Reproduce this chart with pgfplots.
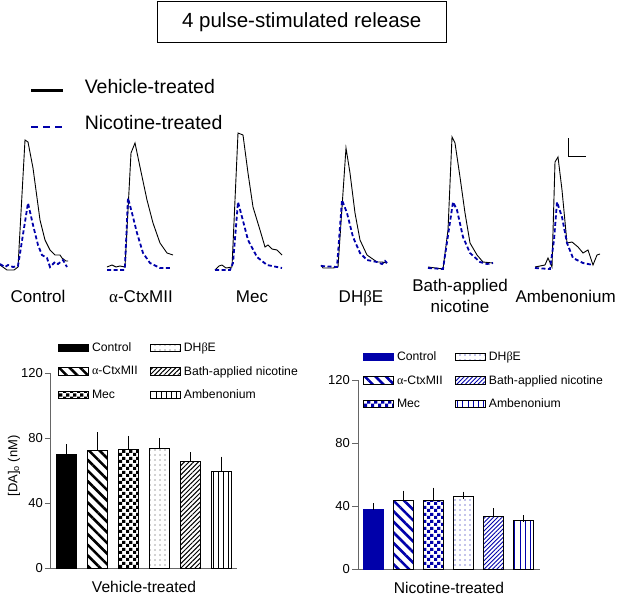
\documentclass[border=0pt]{standalone}
\usepackage{pgfplots}
\pgfplotsset{compat=1.18}
\usepackage{fontspec}
\setmainfont{Liberation Sans}
\newfontfamily\grk{Liberation Serif}
\usetikzlibrary{patterns,patterns.meta}
\definecolor{DBlue}{RGB}{0,0,170}
\pgfdeclarepatternformonly{mycheck}{\pgfpointorigin}{\pgfqpoint{7pt}{7pt}}{\pgfqpoint{7pt}{7pt}}{%
  \pgfpathrectangle{\pgfpointorigin}{\pgfqpoint{3.5pt}{3.5pt}}%
  \pgfpathrectangle{\pgfqpoint{3.5pt}{3.5pt}}{\pgfqpoint{3.5pt}{3.5pt}}%
  \pgfusepath{fill}}
\newcommand{\A}{{\grk α}}
\newcommand{\B}{{\grk β}}
\pgfplotsset{
  barax/.style={
    scale only axis, anchor=south west,
    ymin=0, ymax=120, ytick={0,40,80,120},
    xtick=\empty,
    axis lines*=left,
    axis line style={black!60, line width=1pt},
    every tick/.style={black!60, line width=1pt},
    tick align=outside, major tick length=6pt,
    /pgf/number format/assume math mode=true,
    yticklabel style={font=\fontsize{13}{13}\selectfont, inner sep=2pt},
    ybar, bar width=0.668, bar shift=0pt,
    every axis plot/.append style={line width=1pt},
    error bars/y dir=plus, error bars/y explicit,
    error bars/error bar style={black, line width=1pt},
    error bars/error mark options={black, line width=1pt, mark size=3.5pt},
    legend columns=2, legend cell align=left,
    legend image code/.code={\path (-10.5pt,0pt); \draw[##1] (0pt,-3.7pt) rectangle (29.4pt,3.7pt); \path (30.7pt,0pt);},
    legend style={draw=none, fill=none, inner sep=0pt, outer sep=0pt, row sep=9pt, column sep=0pt, font=\fontsize{12.2}{14}\selectfont, anchor=north west},
    xlabel style={font=\fontsize{15.6}{16}\selectfont, anchor=center, inner sep=0pt},
  },
}
\begin{document}
\begin{tikzpicture}
\useasboundingbox (0,0) rectangle (621pt,595pt);
% ---------- traces ----------
\begin{axis}[name=main, at={(0pt,0pt)}, anchor=south west, scale only axis,
  width=621pt, height=595pt,
  xmin=0, xmax=621, ymin=0, ymax=595, y dir=reverse, hide axis, clip=false,
  legend style={at={(axis cs:29.8,77)}, anchor=north west, draw=none, fill=none, inner sep=0pt, row sep=17pt, font=\fontsize{19.5}{20}\selectfont},
  legend image code/.code={\draw[#1] (0pt,-3.5pt) -- (31.7pt,-3.5pt); \path (50.2pt,3.5pt);},
  legend cell align=left,
]
\addlegendimage{black, line width=2.6pt}
\addlegendentry{Vehicle-treated}
\addlegendimage{DBlue, line width=2.6pt, dash pattern=on 7pt off 5pt}
\addlegendentry{Nicotine-treated}
% Control
\addplot[black, line width=0.9pt, forget plot] coordinates {(0,265) (7,270) (14,270) (18,267) (25,140) (28,142) (33,168) (40,220) (45,240) (50,250) (55,255) (60,255) (62,258) (66,261) (68,261)};
\addplot[DBlue, line width=1.8pt, dash pattern=on 4pt off 2.5pt, forget plot] coordinates {(0,264) (5,267) (8,265) (13,267) (18,266) (28,203) (33,225) (38,245) (42,255) (47,258) (50,267) (55,262) (58,264) (63,260) (67,267)};
% a-CtxMII
\addplot[black, line width=0.9pt, forget plot] coordinates {(107,267) (112,265) (116,267) (120,266) (125,267) (131,153) (135,143) (140,167) (147,200) (153,223) (160,243) (167,253) (173,255)};
\addplot[DBlue, line width=1.8pt, dash pattern=on 4pt off 2.5pt, forget plot] coordinates {(107,270) (124,270) (125,266) (128,198) (132,213) (137,233) (143,253) (150,263) (160,268) (172,268)};
% Mec
\addplot[black, line width=0.9pt, forget plot] coordinates {(215,270) (219,266) (222,265) (226,268) (232,267) (238,133) (243,135) (248,173) (253,207) (260,230) (265,247) (268,245) (272,249) (277,250) (282,255)};
\addplot[DBlue, line width=1.8pt, dash pattern=on 4pt off 2.5pt, forget plot] coordinates {(215,270) (230,270) (233,263) (238,202) (242,217) (248,240) (257,257) (267,265) (282,268)};
% DHbE
\addplot[black, line width=0.9pt, forget plot] coordinates {(321,265) (323,268) (333,268) (338,267) (346,148) (350,173) (355,213) (360,240) (367,255) (377,262) (382,262) (387,263)};
\addplot[DBlue, line width=1.8pt, dash pattern=on 4pt off 2.5pt, forget plot] coordinates {(321,266) (337,267) (342,200) (347,213) (353,237) (360,253) (367,260) (377,262) (382,264) (385,261) (387,263)};
% Bath
\addplot[black, line width=0.9pt, forget plot] coordinates {(428,267) (443,269) (448,230) (452,137) (455,143) (460,177) (465,213) (470,243) (477,255) (483,262) (493,263)};
\addplot[DBlue, line width=1.8pt, dash pattern=on 4pt off 2.5pt, forget plot] coordinates {(428,268) (443,269) (453,202) (457,210) (463,237) (470,253) (480,262) (487,264) (493,263)};
% Ambenonium
\addplot[black, line width=0.9pt, forget plot] coordinates {(535,267) (545,265) (548,258) (552,267) (555,162) (558,157) (562,190) (567,243) (572,242) (578,247) (583,253) (588,250) (593,265) (597,255) (600,254)};
\addplot[DBlue, line width=1.8pt, dash pattern=on 4pt off 2.5pt, forget plot] coordinates {(535,268) (550,269) (554,240) (557,202) (562,217) (567,243) (573,258) (583,263) (593,265)};
% scale bar
\addplot[black, line width=1pt, forget plot] coordinates {(568,138) (568,156) (586,156)};
% texts
\node[draw=black, line width=1pt, minimum width=288.5pt, minimum height=40.6pt, inner sep=0pt, font=\fontsize{20.5}{21}\selectfont] at (axis cs:301.75,22) {4 pulse-stimulated release};
\begin{scope}[every node/.style={font=\fontsize{17}{21.7}\selectfont, inner sep=0pt}]
\node[anchor=base] at (axis cs:38,302.8) {Control};
\node[anchor=base] at (axis cs:141,302.8) {\A-CtxMII};
\node[anchor=base] at (axis cs:252,302.8) {Mec};
\node[anchor=base] at (axis cs:361,302.8) {DH\B E};
\node[anchor=center, align=center] at (axis cs:460,296) {Bath-applied\\nicotine};
\node[anchor=base] at (axis cs:565.6,302.8) {Ambenonium};
\end{scope}
\end{axis}
% ---------- Vehicle-treated bars ----------
\begin{axis}[barax, at={(51pt,26.7pt)}, width=186pt, height=195pt,
  xmin=0.5, xmax=6.5,
  ylabel={[DA]\textsubscript{o} (nM)},
  ylabel style={font=\fontsize{13}{13}\selectfont, at={(axis description cs:-0.199,0.525)}, anchor=center},
  xlabel={Vehicle-treated},
  xlabel style={at={(axis description cs:0.5,-0.098)}},
  legend style={at={(axis description cs:-0.0172,1.166)}},
]
\addplot[fill=black, draw=black] coordinates {(1,70.3) +- (0,3.9)};
\addlegendentry{Control}
\addplot[draw=black, pattern={Dots[distance=5pt, radius=0.55pt]}, pattern color=black!75] coordinates {(4,74.0) +- (0,4.1)};
\addlegendentry{DH\B E}
\addplot[draw=black, pattern={Lines[angle=-45, distance=7.5pt, line width=2.6pt]}, pattern color=black] coordinates {(2,72.8) +- (0,8.8)};
\addlegendentry{\A-CtxMII}
\addplot[draw=black, pattern={Lines[angle=45, distance=3.3pt, line width=1pt]}, pattern color=black] coordinates {(5,65.6) +- (0,3.7)};
\addlegendentry{Bath-applied nicotine}
\addplot[draw=black, pattern=mycheck, pattern color=black] coordinates {(3,73.4) +- (0,6.0)};
\addlegendentry{Mec}
\addplot[draw=black, pattern={Lines[angle=90, distance=5.2pt, line width=0.9pt]}, pattern color=black] coordinates {(6,59.7) +- (0,6.9)};
\addlegendentry{Ambenonium}
\end{axis}
% ---------- Nicotine-treated bars ----------
\begin{axis}[barax, at={(358pt,25.7pt)}, width=182pt, height=189.3pt,
  xmin=0.49, xmax=6.56,
  xlabel={Nicotine-treated},
  xlabel style={at={(axis description cs:0.5,-0.096)}},
  legend style={at={(axis description cs:-0.0286,1.158)}},
]
\addplot[fill=DBlue, draw=DBlue] coordinates {(1,37.6) +- (0,2.2)};
\addlegendentry{Control}
\addplot[draw=black, pattern={Dots[distance=5pt, radius=0.55pt]}, pattern color=DBlue] coordinates {(4,45.9) +- (0,1.1)};
\addlegendentry{DH\B E}
\addplot[draw=black, pattern={Lines[angle=-45, distance=7.5pt, line width=2.6pt]}, pattern color=DBlue] coordinates {(2,43.8) +- (0,3.8)};
\addlegendentry{\A-CtxMII}
\addplot[draw=black, pattern={Lines[angle=45, distance=3pt, line width=0.9pt]}, pattern color=DBlue] coordinates {(5,33.6) +- (0,2.8)};
\addlegendentry{Bath-applied nicotine}
\addplot[draw=black, pattern=mycheck, pattern color=DBlue] coordinates {(3,43.8) +- (0,5.7)};
\addlegendentry{Mec}
\addplot[draw=black, pattern={Lines[angle=90, distance=5.2pt, line width=0.9pt]}, pattern color=DBlue] coordinates {(6,31.1) +- (0,0.8)};
\addlegendentry{Ambenonium}
\end{axis}
\end{tikzpicture}
\end{document}
